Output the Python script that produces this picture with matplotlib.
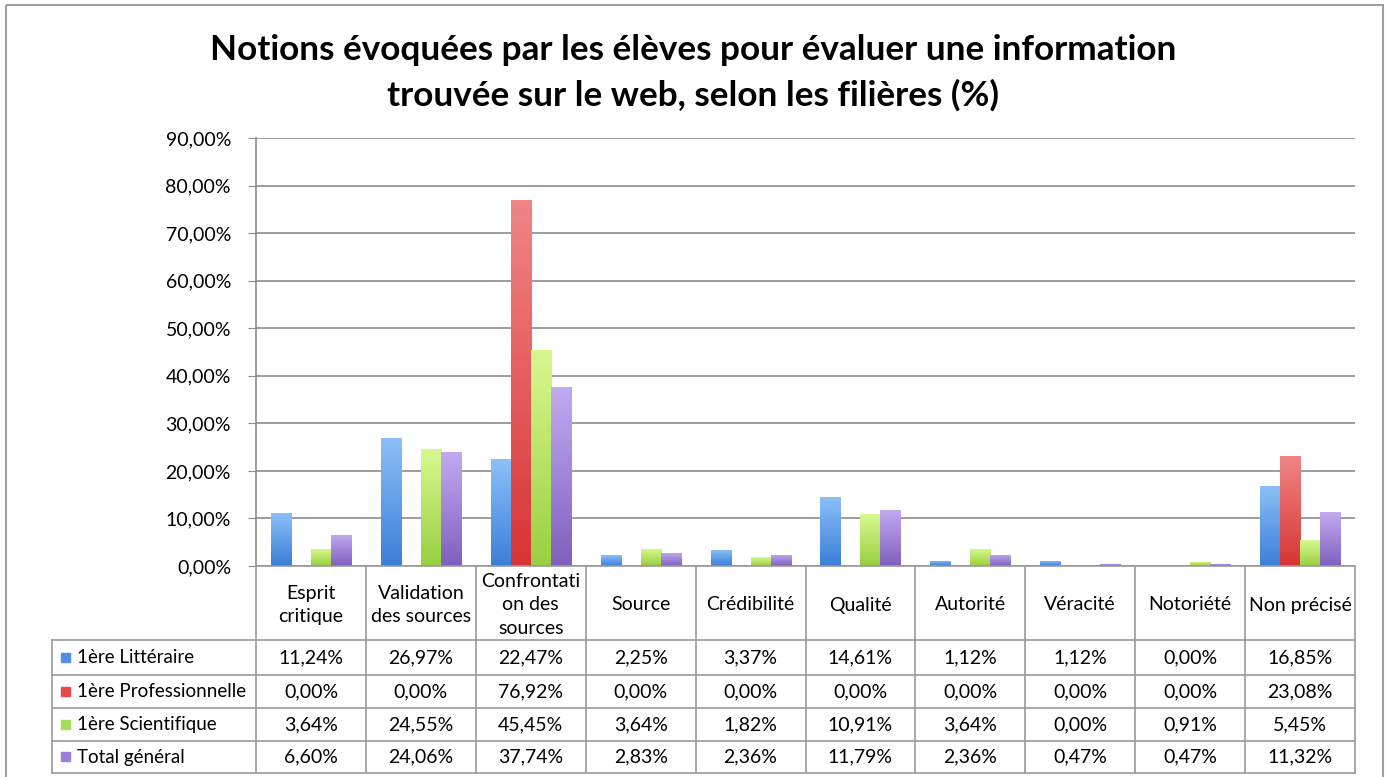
import matplotlib.pyplot as plt
from matplotlib.patches import Rectangle
from matplotlib.colors import LinearSegmentedColormap
import numpy as np

plt.rcParams['font.family'] = ['Lato', 'DejaVu Sans']

categories = ['Esprit\ncritique', 'Validation\ndes sources', 'Confrontati\non des\nsources',
              'Source', 'Crédibilité', 'Qualité', 'Autorité', 'Véracité', 'Notoriété', 'Non précisé']
series_names = ['1ère Littéraire', '1ère Professionnelle', '1ère Scientifique', 'Total général']
litteraire = [11.24, 26.97, 22.47, 2.25, 3.37, 14.61, 1.12, 1.12, 0.00, 16.85]
professionnelle = [0.00, 0.00, 76.92, 0.00, 0.00, 0.00, 0.00, 0.00, 0.00, 23.08]
scientifique = [3.64, 24.55, 45.45, 3.64, 1.82, 10.91, 3.64, 0.00, 0.91, 5.45]
total = [6.60, 24.06, 37.74, 2.83, 2.36, 11.79, 2.36, 0.47, 0.47, 11.32]
yticks = [0, 10, 20, 30, 40, 50, 60, 70, 80, 90]

series = [litteraire, professionnelle, scientifique, total]
colors = ['#4f8ee0', '#e54a4a', '#a8dc5c', '#9d7fd6']
# gradient ends (bottom, top) for the bars
grad = [('#3a7fd8', '#8cc0f8'), ('#d83535', '#f08585'),
        ('#98d040', '#d8f890'), ('#7f60c0', '#c2aaf0')]

W, H = 1386, 777
fig = plt.figure(figsize=(W / 100, H / 100), dpi=100)

px_l, px_r, px_t, px_b = 256, 1355, 138, 566
ax = fig.add_axes([px_l / W, 1 - px_b / H, (px_r - px_l) / W, (px_b - px_t) / H])
n = len(categories)
x = np.arange(n)
bw = 0.182
g = np.linspace(0, 1, 64).reshape(-1, 1)
for i, vals in enumerate(series):
    bars = ax.bar(x - 1.5 * bw + i * bw, vals, width=bw, color=colors[i], zorder=3)
    cmap = LinearSegmentedColormap.from_list('g%d' % i, grad[i])
    for b in bars:
        h = b.get_height()
        if h <= 0:
            continue
        bx = b.get_x()
        im = ax.imshow(g, cmap=cmap, aspect='auto', origin='lower',
                       extent=(bx, bx + b.get_width(), 0, h), zorder=4)
        im.set_clip_path(b)
ax.set_xlim(-0.5, n - 0.5)
ax.set_ylim(0, 90)
ax.set_yticks(yticks)
ax.set_yticklabels([f'{v:.2f}%'.replace('.', ',') for v in yticks], fontsize=14)
ax.set_xticks([])
ax.yaxis.grid(True, color='#8c8c8c', linewidth=1.2, zorder=0)
for s in ['top', 'right', 'bottom']:
    ax.spines[s].set_visible(False)
ax.spines['left'].set_color('#8c8c8c')
ax.spines['left'].set_linewidth(1.2)
ax.tick_params(axis='y', length=6, color='#8c8c8c', pad=12)

ov = fig.add_axes([0, 0, 1, 1], zorder=-1)
ov.set_xlim(0, W)
ov.set_ylim(H, 0)
ov.axis('off')
ov.add_patch(Rectangle((6, 5), 1377, 790, fill=False, edgecolor='#a0a0a0', linewidth=1.5))

fig.text(0.5, 1 - 50 / H, 'Notions évoquées par les élèves pour évaluer une information',
         ha='center', va='center', fontsize=25.3, fontweight='bold')
fig.text(0.5, 1 - 95 / H, 'trouvée sur le web, selon les filières (%)',
         ha='center', va='center', fontsize=25.3, fontweight='bold')

# data table below the chart, in pixel coordinates
tab = fig.add_axes([0, 0, 1, 1])
tab.set_xlim(0, W)
tab.set_ylim(H, 0)
tab.axis('off')
lc = '#9a9a9a'
col_w = (px_r - px_l) / n
row_y = [566, 640, 675, 708, 741, 773]
tab_left = 52
for j in range(n + 1):
    xx = px_l + j * col_w
    tab.plot([xx, xx], [row_y[0], row_y[-1]], color=lc, lw=1.2)
tab.plot([tab_left, tab_left], [row_y[1], row_y[-1]], color=lc, lw=1.2)
tab.plot([px_l, px_r], [row_y[0], row_y[0]], color=lc, lw=1.2)
for yy in row_y[1:]:
    tab.plot([tab_left, px_r], [yy, yy], color=lc, lw=1.2)
for j, c in enumerate(categories):
    tab.text(px_l + (j + 0.5) * col_w, (row_y[0] + row_y[1]) / 2 + 2, c,
             ha='center', va='center', fontsize=14, linespacing=1.45)
for i, (name, vals) in enumerate(zip(series_names, series)):
    yc = (row_y[i + 1] + row_y[i + 2]) / 2
    tab.add_patch(Rectangle((61, yc - 5), 9, 9, color=colors[i]))
    tab.text(77, yc, name, ha='left', va='center', fontsize=13.5)
    for j, v in enumerate(vals):
        tab.text(px_l + (j + 0.5) * col_w, yc, f'{v:.2f}%'.replace('.', ','),
                 ha='center', va='center', fontsize=14)

fig.savefig('out.png', dpi=100)
